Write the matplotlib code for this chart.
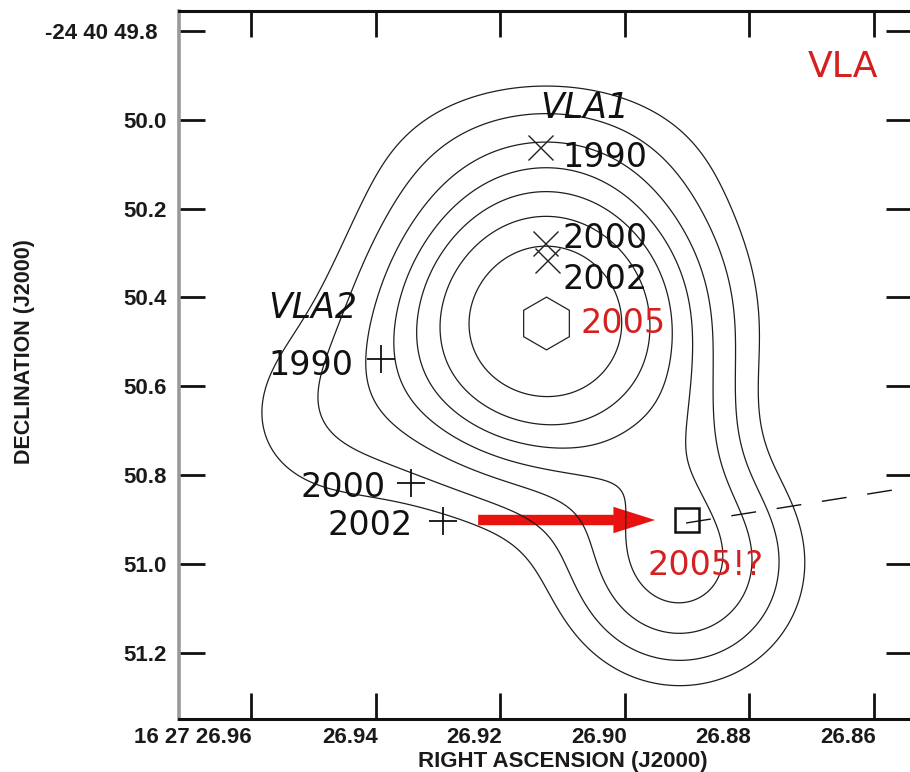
import numpy as np
import matplotlib
matplotlib.use("Agg")
import matplotlib.pyplot as plt
from matplotlib.patches import FancyArrowPatch
import matplotlib.transforms as mtransforms

# ---------------- data ----------------
ra_ticks = [26.96, 26.94, 26.92, 26.90, 26.88, 26.86]
ra_ticklabels = ["16 27 26.96", "26.94", "26.92", "26.90", "26.88", "26.86"]
dec_ticks = [49.8, 50.0, 50.2, 50.4, 50.6, 50.8, 51.0, 51.2]
dec_ticklabels = ["-24 40 49.8", "50.0", "50.2", "50.4", "50.6", "50.8", "51.0", "51.2"]

# emission components (RA s, Dec arcsec, amplitude, widths in arcsec)
comp_ra = [26.91261, 26.91261, 26.94892, 26.89109, 26.88916]
comp_dec = [50.4554, 50.0455, 50.6761, 51.0027, 50.7212]
comp_amp = [1.0, 0.085, 0.13, 0.41, 0.08]
comp_sig_ra = [0.222, 0.289, 0.178, 0.169, 0.075]
comp_sig_dec = [0.222, 0.133, 0.178, 0.169, 0.133]
contour_levels = [0.113, 0.184, 0.274, 0.370, 0.475, 0.600, 0.761]

vla1_years = ["1990", "2000", "2002"]
vla1_ra = [26.91357, 26.91277, 26.91245]
vla1_dec = [50.0613, 50.2775, 50.3158]
vla1_2005_ra, vla1_2005_dec = 26.91261, 50.4577

vla2_years = ["1990", "2000", "2002"]
vla2_ra = [26.93912, 26.93430, 26.92916]
vla2_dec = [50.5388, 50.8180, 50.9036]
vla2_2005_ra, vla2_2005_dec = 26.88996, 50.9004

# ---------------- figure ----------------
fig = plt.figure(figsize=(9.1, 7.72), dpi=100)
ax = fig.add_axes([179 / 910, 1 - 719 / 772, (912 - 179) / 910, (719 - 10.5) / 772])

ra_grid = np.linspace(26.98, 26.84, 500)
dec_grid = np.linspace(49.70, 51.40, 500)
RA, DEC = np.meshgrid(ra_grid, dec_grid)
cosd = np.cos(np.deg2rad(24.68))
field = np.zeros_like(RA)
for r0, d0, a, sr, sd in zip(comp_ra, comp_dec, comp_amp, comp_sig_ra, comp_sig_dec):
    dx = (RA - r0) * 15 * cosd
    dy = DEC - d0
    field += a * np.exp(-0.5 * ((dx / sr) ** 2 + (dy / sd) ** 2))

ax.contour(RA, DEC, field, levels=contour_levels, colors="#1e1e1e", linewidths=0.9)

# markers
ax.plot(vla1_ra, vla1_dec, linestyle="none", marker="x", ms=18, mew=1.0, color="#222222")
ax.plot([vla1_2005_ra], [vla1_2005_dec], linestyle="none", marker="h", ms=38,
        mfc="none", mec="#222222", mew=0.9)
ax.plot(vla2_ra, vla2_dec, linestyle="none", marker="+", ms=20, mew=1.3, color="#111111")
ax.plot([vla2_2005_ra], [vla2_2005_dec], linestyle="none", marker="s", ms=17,
        mfc="none", mec="#111111", mew=1.8)

# dashed line from candidate position
ax.plot([26.89012, 26.85382], [50.9081, 50.8270], color="#111111", lw=1.0,
        dashes=(18, 15))

# red arrow
arrow = FancyArrowPatch((26.92353, 50.9014), (26.89510, 50.9014),
                        arrowstyle="simple,head_length=30,head_width=19,tail_width=7.5",
                        mutation_scale=1, color="#e8120f", shrinkA=0, shrinkB=0, lw=0)
ax.add_patch(arrow)

# texts
num_fs = 24
ax.text(26.91357, 49.9960, "VLA1", fontsize=25, style="italic", color="#111111", va="baseline")
ax.text(26.91004, 50.1063, vla1_years[0], fontsize=num_fs, color="#111111", va="baseline")
ax.text(26.91004, 50.2888, vla1_years[1], fontsize=num_fs, color="#111111", va="baseline")
ax.text(26.91004, 50.3811, vla1_years[2], fontsize=num_fs, color="#111111", va="baseline")
ax.text(26.90715, 50.4802, "2005", fontsize=num_fs, color="#d42020", va="baseline")
ax.text(26.95727, 50.4464, "VLA2", fontsize=25, style="italic", color="#111111", va="baseline")
ax.text(26.94361, 50.5748, vla2_years[0], fontsize=num_fs, color="#111111", va="baseline", ha="right")
ax.text(26.93847, 50.8496, vla2_years[1], fontsize=num_fs, color="#111111", va="baseline", ha="right")
ax.text(26.93398, 50.9352, vla2_years[2], fontsize=num_fs, color="#111111", va="baseline", ha="right")
ax.text(26.89639, 51.0253, "2005!?", fontsize=num_fs, color="#d42020", va="baseline")
ax.text(26.87052, 49.9036, "VLA", fontsize=26, color="#d42020", va="baseline")

# axes
ax.set_xlim(26.9716, 26.85382)
ax.set_ylim(51.3496, 49.7538)
ax.set_xticks(ra_ticks)
ax.set_xticklabels(ra_ticklabels)
ax.set_yticks(dec_ticks)
ax.set_yticklabels(dec_ticklabels)

ax.tick_params(axis="both", direction="in", length=19, width=2, color="#111111",
               top=True, right=True)
ax.tick_params(axis="x", pad=6)
ax.tick_params(axis="y", pad=9)

lab_font = dict(family="Liberation Sans", weight="bold", size=16)
for i, lab in enumerate(ax.get_xticklabels()):
    lab.set_fontproperties(matplotlib.font_manager.FontProperties(**lab_font))
    lab.set_ha("right")
    lab.set_color("#1a1a1a")
    shift = 0 if i == 0 else 2
    lab.set_transform(lab.get_transform() + mtransforms.ScaledTranslation(shift / 100, 0, fig.dpi_scale_trans))
for i, lab in enumerate(ax.get_yticklabels()):
    lab.set_fontproperties(matplotlib.font_manager.FontProperties(**lab_font))
    lab.set_color("#1a1a1a")
    if i == 0:
        lab.set_transform(lab.get_transform() + mtransforms.ScaledTranslation(-9 / 100, 0, fig.dpi_scale_trans))

ax.spines["left"].set_color("#9a9a9a")
ax.spines["left"].set_linewidth(2.6)
ax.spines["top"].set_color("#111111")
ax.spines["top"].set_linewidth(2.2)
ax.spines["bottom"].set_color("#111111")
ax.spines["bottom"].set_linewidth(2.2)
ax.spines["right"].set_visible(False)

fig.text(563 / 910, 1 - 761 / 772, "RIGHT ASCENSION (J2000)", ha="center", va="center",
         family="Liberation Sans", weight="bold", size=16, color="#1a1a1a")
fig.text(25 / 910, 1 - 352 / 772, "DECLINATION (J2000)", ha="center", va="center",
         rotation=90, family="Liberation Sans", weight="bold", size=15.5, color="#1a1a1a")

fig.savefig("out.png", dpi=100)
